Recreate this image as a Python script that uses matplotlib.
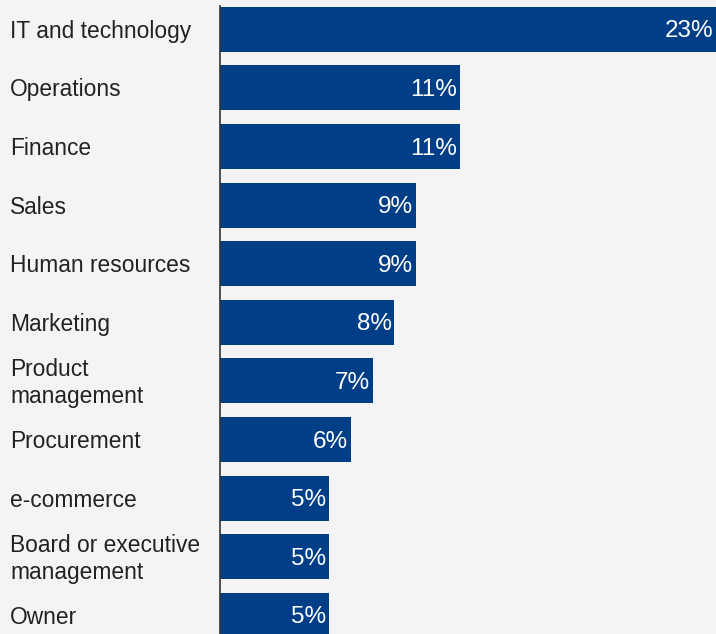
import matplotlib
matplotlib.use("Agg")
import matplotlib.pyplot as plt
from matplotlib.transforms import blended_transform_factory, offset_copy

categories = ["IT and technology", "Operations", "Finance", "Sales", "Human resources",
              "Marketing", "Product\nmanagement", "Procurement", "e-commerce",
              "Board or executive\nmanagement", "Owner"]
values = [23, 11, 11, 9, 9, 8, 7, 6, 5, 5, 5]
value_labels = ["23%", "11%", "11%", "9%", "9%", "8%", "7%", "6%", "5%", "5%", "5%"]

plt.rcParams['font.family'] = ['Liberation Sans', 'DejaVu Sans']
bg = "#f4f4f4"
bar_color = "#003f87"

fig = plt.figure(figsize=(7.16, 6.34), dpi=100, facecolor=bg)
ax = fig.add_axes([220/716, 0, 496/716, 1])
ax.set_facecolor(bg)

pos = list(range(len(categories)))
ax.barh(pos, values, height=0.77, color=bar_color, zorder=2)
ax.set_xlim(0, 22.75)
ax.set_ylim(-0.5 + 634/58.6, -0.5)

for i, (v, lab) in enumerate(zip(values, value_labels)):
    xv = min(v, 22.75)
    ax.annotate(lab, xy=(xv, i), xytext=(-2, -1.5), textcoords="offset points",
                ha="right", va="center", color="white", fontsize=17.5)

trans = blended_transform_factory(fig.transFigure, ax.transData)
trans = offset_copy(trans, fig=fig, x=0, y=-1.5, units="points")
for i, c in enumerate(categories):
    fig.text(10/716, i, c, transform=trans, ha="left", va="center",
             fontsize=16.4, color="#222222", linespacing=1.22)

for s in ["top", "right", "bottom"]:
    ax.spines[s].set_visible(False)
ax.spines["left"].set_color("#333333")
ax.spines["left"].set_linewidth(1.2)
ax.spines["left"].set_bounds(-0.39, 10.8)
ax.set_xticks([])
ax.set_yticks([])

fig.savefig("out.png", dpi=100, facecolor=bg)
